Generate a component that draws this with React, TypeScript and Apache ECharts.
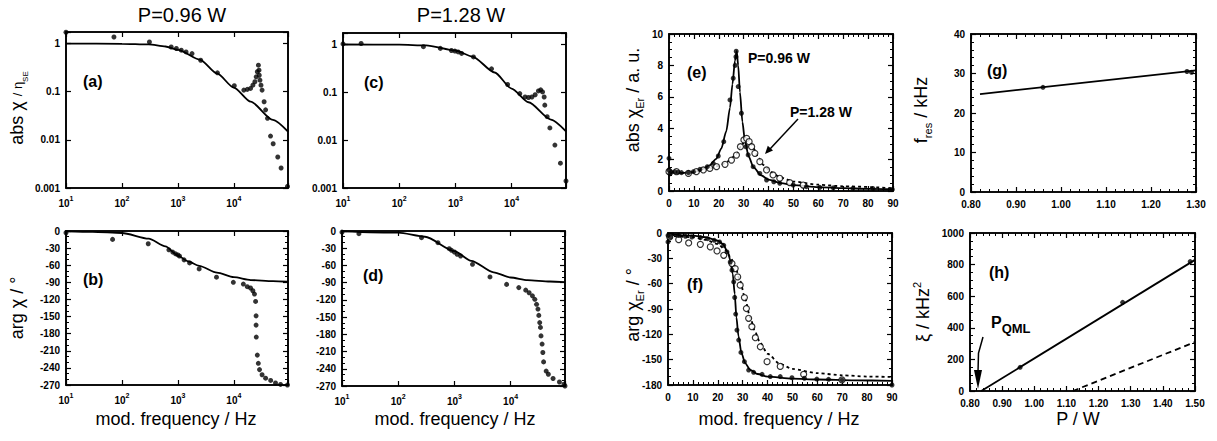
import React, { useEffect, useRef } from "react";
import * as echarts from "echarts";

const FONT = "'Liberation Sans', Arial, Helvetica, sans-serif";

// ---------- DATA ----------
// (a) abs chi / eta_SE, P = 0.96 W   [mod. frequency Hz, value]
const absData096 = [
  [10, 1.72], [72, 1.37], [310, 1.08], [760, 0.85], [940, 0.79], [1150, 0.73], [1400, 0.67], [1790, 0.62],
  [2560, 0.45], [5100, 0.247], [10200, 0.133], [15100, 0.108], [17400, 0.112], [19900, 0.117], [21900, 0.137],
  [23800, 0.161], [25100, 0.204], [26300, 0.26], [27500, 0.356], [28200, 0.28], [28500, 0.22], [29300, 0.174],
  [30600, 0.137], [32000, 0.108], [34800, 0.062], [37000, 0.042], [40000, 0.028], [45300, 0.012],
  [50500, 0.0083], [61000, 0.0044], [70000, 0.0026], [91000, 0.00108],
];
const absFit096 = [
  [10, 1], [100, 0.99], [300, 0.96], [600, 0.87], [1000, 0.74], [2500, 0.46], [5000, 0.24], [10000, 0.122],
  [20000, 0.062], [50000, 0.026], [93000, 0.0148],
];
// (b) arg chi / deg, P = 0.96 W
const argData096 = [
  [10, -3], [68, -14.7], [295, -22.4], [690, -33], [810, -37], [910, -40], [1000, -42], [1070, -44],
  [1290, -50.6], [1620, -56], [2400, -66.5], [4900, -81], [9800, -90], [14800, -93], [17400, -97.6],
  [19900, -100], [21900, -104.7], [23400, -110.6], [24500, -123.5], [25000, -148.8], [25000, -165],
  [25200, -186], [26300, -217.6], [27400, -232], [28800, -243], [32000, -252], [37000, -258],
  [45600, -262], [55600, -266.5], [68400, -269], [91000, -270],
];
const argFit096 = [
  [10, -0.5], [30, -1.5], [100, -3.5], [300, -13.5], [600, -27], [1000, -43], [1500, -53], [2400, -61],
  [5000, -73], [10000, -81], [20000, -86], [50000, -88], [93000, -89],
];
// (c) abs chi / eta_SE, P = 1.28 W
const absData128 = [
  [10, 1.03], [21, 1.05], [270, 0.9], [540, 0.83], [850, 0.75], [980, 0.73], [1120, 0.7], [1290, 0.65],
  [2100, 0.55], [4400, 0.31], [8500, 0.146], [14000, 0.094], [17400, 0.08], [20000, 0.078], [23000, 0.08],
  [26300, 0.089], [30000, 0.107], [33000, 0.113], [35600, 0.102], [38000, 0.08], [39000, 0.054],
  [43000, 0.031], [48000, 0.018], [59000, 0.0079], [74000, 0.0033], [93000, 0.0014],
];
const absFit128 = [
  [10, 1], [100, 0.99], [300, 0.96], [1000, 0.75], [2000, 0.56], [5000, 0.26], [10000, 0.12],
  [20000, 0.062], [50000, 0.027], [93000, 0.0153],
];
// (d) arg chi / deg, P = 1.28 W
const argData128 = [
  [10, -2], [20, -4.6], [260, -11.6], [510, -20.3], [810, -30.8], [890, -33.7], [1000, -36.6], [1120, -40.6],
  [1290, -43.5], [2100, -58], [4300, -80], [8500, -93], [14000, -98.6], [18600, -103], [21400, -107.5],
  [24500, -113], [27000, -119], [29000, -127.7], [30700, -136], [31800, -147], [33000, -159.6],
  [34000, -168], [34800, -182.7], [36400, -197], [37500, -211.6], [38700, -228], [43000, -244],
  [47000, -249.5], [57000, -257], [74000, -263], [89000, -267], [93000, -270],
];
const argFit128 = [
  [10, -0.5], [100, -3], [300, -10], [1000, -35], [2000, -52], [5000, -72], [10000, -81], [20000, -85.5],
  [50000, -88], [93000, -89],
];
// (e) abs chi_Er / a.u.
const absEr096 = [
  [0, 2.08], [0, 1.34], [0.4, 1.1], [1, 1.2], [2.4, 1.22], [3.7, 1.2], [5, 1.17], [7.8, 1.17], [9.8, 1.23],
  [12.4, 1.38], [15.4, 1.55], [17.8, 1.76], [19.8, 2.23], [22, 3.14], [24.5, 5.8], [25.8, 7.18], [26.6, 8.0],
  [26.9, 8.55], [27, 8.9], [27.8, 6.65], [29.1, 4.95], [30.9, 2.82], [31.8, 2.3], [33.8, 1.55], [36.5, 1.12],
  [39.2, 0.7], [42.1, 0.59], [44.5, 0.49], [49.9, 0.38], [55.2, 0.28], [60.6, 0.23], [66, 0.2], [73.9, 0.17],
  [82, 0.15], [89.7, 0.1],
];
const absEr128 = [
  [0, 1.23], [3, 1.23], [7.8, 1.12], [11, 1.23], [13.8, 1.34], [16.4, 1.44], [19.1, 1.55], [22.5, 1.7],
  [25.1, 1.97], [27.1, 2.29], [28.7, 2.82], [30.1, 3.25], [31.2, 3.35], [32.2, 3.14], [33.2, 2.82],
  [34.5, 2.4], [36.5, 1.87], [39.2, 1.34], [41.8, 1.02], [44.5, 0.81], [48.5, 0.53], [53.9, 0.38],
];
const absErFit096 = [
  [0, 1.25], [5, 1.15], [10, 1.2], [13, 1.35], [16, 1.6], [19, 2.05], [21, 2.7], [23, 3.8], [24.5, 5.3],
  [25.5, 6.8], [26.5, 8.3], [27.2, 8.9], [27.8, 8.0], [28.5, 6.3], [29.5, 4.4], [30.5, 3.2], [32, 2.2],
  [34, 1.5], [37, 1.0], [40, 0.72], [45, 0.5], [50, 0.38], [60, 0.25], [70, 0.18], [80, 0.14], [90, 0.11],
];
const absErFit128 = [
  [0, 1.2], [5, 1.15], [10, 1.2], [15, 1.38], [20, 1.6], [24, 1.9], [27, 2.35], [29, 2.85], [30.5, 3.2],
  [31.5, 3.3], [32.5, 3.15], [34, 2.7], [36, 2.1], [38, 1.65], [41, 1.2], [45, 0.85], [50, 0.6], [60, 0.4],
  [70, 0.3], [90, 0.18],
];
// (f) arg chi_Er / deg
const argEr096 = [
  [0, -2.8], [0, -10.6], [0.9, -4.7], [4.3, -2.8], [7, -3.9], [9.6, -4.7], [13, -5.5], [15.9, -6.7],
  [18.6, -8.7], [20.7, -10.6], [22.4, -14.6], [23.7, -22.4], [25, -34.3], [25.7, -44], [26.4, -57.9],
  [26.8, -76.4], [27.2, -96], [27.7, -115], [28.4, -126.8], [29.3, -141.4], [30.7, -152.4], [32.4, -162.3],
  [34.4, -165], [37.8, -167.4], [41.1, -170], [45.1, -170], [49.8, -171.3], [54.8, -172], [59.8, -173],
  [64.5, -173.3], [69.9, -174], [90, -180],
];
const argEr128 = [
  [0.7, -4.7], [4.3, -7.9], [8.3, -11.8], [13, -13.4], [17, -16.5], [19.7, -21.3], [22.4, -26.4],
  [25.7, -36.2], [27, -42.1], [28, -52], [29, -61.8], [30.7, -76.4], [31.5, -89.4], [32.4, -101],
  [33.7, -111], [35.1, -124], [37.1, -134.7], [39.8, -152.4], [45.1, -158], [54.5, -167.4], [69.9, -174],
];
const argErFit096 = [
  [0, -2], [10, -3], [15, -5], [20, -9], [22, -13], [24, -22], [25, -32], [26, -48], [26.8, -72],
  [27.5, -100], [28.3, -122], [29.5, -142], [31, -154], [33, -162], [36, -167], [40, -170], [50, -172.5],
  [60, -173.5], [75, -174.5], [90, -175],
];
const argErFit128 = [
  [0, -3], [10, -5], [15, -8], [20, -13], [23, -20], [25, -28], [27, -40], [29, -57], [31, -78], [33, -100],
  [35, -117], [37, -130], [40, -143], [45, -155], [50, -161], [60, -166], [70, -168.5], [80, -170], [90, -170.5],
];
// (g) f_res / kHz vs P / W
const fresData = [[0.96, 26.5], [1.28, 30.5], [1.29, 30.3]];
const fresFit = [[0.82, 24.8], [1.3, 30.8]];
// (h) xi / kHz^2 vs P / W
const xiData = [[0.956, 150], [1.275, 561], [1.485, 819]];
const xiFit = [[0.835, 0], [1.5, 830]];
const xiDashed = [[1.12, 0], [1.5, 310]];

// ---------- LAYOUT ----------
const grids = [
  { left: 66, top: 32, width: 222, height: 156 }, // a
  { left: 66, top: 231, width: 222, height: 154 }, // b
  { left: 343, top: 33, width: 223, height: 155 }, // c
  { left: 342, top: 231, width: 223, height: 155 }, // d
  { left: 669, top: 34, width: 224, height: 157 }, // e
  { left: 668, top: 233, width: 224, height: 152 }, // f
  { left: 971, top: 34, width: 225, height: 158 }, // g
  { left: 970, top: 233, width: 225, height: 158 }, // h
];

const logX = { type: "log", logBase: 10, min: 10, max: 93000 };
const logY = { type: "log", logBase: 10, min: 0.001, max: 1.74 };
const argY = { type: "value", min: -270, max: 0, interval: 30 };
const hzX = { type: "value", min: 0, max: 90, interval: 10 };

const labelBase = { color: "#000", fontFamily: FONT, fontWeight: "bold", fontSize: 10 };
function isDecade(v: number) {
  const e = Math.log10(v);
  return Math.abs(e - Math.round(e)) < 1e-3;
}
const powLabel = (v: number) => (isDecade(v) ? `{b|10}{s|${Math.round(Math.log10(v))}}` : "");
const decLabel = (v: number) =>
  isDecade(v) ? String(Number(Math.pow(10, Math.round(Math.log10(v))).toPrecision(1))) : "";
const plain = (v: number) => String(Math.round(v * 1000) / 1000);
const fix2 = (v: number) => v.toFixed(2);
const powRich = {
  b: { fontFamily: FONT, fontWeight: "bold", fontSize: 10, lineHeight: 16, color: "#000" },
  s: { fontFamily: FONT, fontWeight: "bold", fontSize: 7, lineHeight: 8, verticalAlign: "top", color: "#000" },
};
const logXLabel = { formatter: powLabel, rich: powRich };

function fit(data: number[][], dash: any = "solid", smooth: number = 0.25) {
  return {
    type: "line", data, symbol: "none", showSymbol: false, smooth, smoothMonotone: "x", silent: true, z: 2,
    lineStyle: { color: "#000", width: 1.8, type: dash },
  };
}
function dots(data: number[][]) {
  return { type: "scatter", data, symbol: "circle", symbolSize: 5, itemStyle: { color: "#000" }, silent: true, z: 3 };
}
function rings(data: number[][]) {
  return {
    type: "scatter", data, symbol: "circle", symbolSize: 6,
    itemStyle: { color: "#fff", borderColor: "#000", borderWidth: 1.2 }, silent: true, z: 3,
  };
}

// panel definitions: scales, label formats, minor tick splits, series
const panels = [
  { x: logX, y: logY, xl: logXLabel, yl: { formatter: decLabel }, xm: 0, ym: 0, s: [fit(absFit096), dots(absData096)] },
  { x: logX, y: argY, xl: logXLabel, yl: {}, xm: 0, ym: 3, s: [fit(argFit096), dots(argData096)] },
  { x: logX, y: logY, xl: logXLabel, yl: { formatter: decLabel }, xm: 0, ym: 0, s: [fit(absFit128), dots(absData128)] },
  { x: logX, y: argY, xl: logXLabel, yl: {}, xm: 0, ym: 3, s: [fit(argFit128), dots(argData128)] },
  {
    x: hzX, y: { type: "value", min: 0, max: 10, interval: 2 }, xl: {}, yl: {}, xm: 5, ym: 4,
    s: [fit(absErFit128, [3, 3]), fit(absErFit096), rings(absEr128), dots(absEr096)],
  },
  {
    x: hzX, y: { type: "value", min: -180, max: 0, interval: 30 }, xl: {}, yl: {}, xm: 5, ym: 3,
    s: [fit(argErFit128, [3, 3]), fit(argErFit096), rings(argEr128), dots(argEr096)],
  },
  {
    x: { type: "value", min: 0.8, max: 1.3, interval: 0.1 }, y: { type: "value", min: 0, max: 40, interval: 10 },
    xl: { formatter: fix2 }, yl: {}, xm: 5, ym: 5, s: [fit(fresFit, "solid", 0), dots(fresData)],
  },
  {
    x: { type: "value", min: 0.8, max: 1.5, interval: 0.1 }, y: { type: "value", min: 0, max: 1000, interval: 200 },
    xl: { formatter: fix2 }, yl: {}, xm: 5, ym: 4,
    s: [fit(xiFit, "solid", 0), fit(xiDashed, [6, 4], 0), dots(xiData)],
  },
];

function axisPair(kind: "x" | "y", scale: any, label: any, minorSplit: number) {
  const pos = kind === "x" ? ["bottom", "top"] : ["left", "right"];
  return pos.map((p, i) => ({
    gridIndex: 0,
    position: p,
    ...scale,
    axisLine: { show: true, onZero: false, lineStyle: { color: "#000", width: 1.6 } },
    axisTick: { show: true, inside: true, length: 5, lineStyle: { color: "#000", width: 1.2 } },
    minorTick: { show: minorSplit > 0, splitNumber: minorSplit || 5, length: 3, lineStyle: { color: "#000", width: 1 } },
    splitLine: { show: false },
    minorSplitLine: { show: false },
    axisLabel: i === 0 ? { ...labelBase, margin: kind === "x" ? 7 : 6, formatter: plain, ...label } : { show: false },
  }));
}

const panelOptions = panels.map((p, g) => ({
  animation: false,
  backgroundColor: "transparent",
  grid: { ...grids[g], show: true, borderColor: "#000", borderWidth: 1.6 },
  xAxis: axisPair("x", p.x, p.xl, p.xm),
  yAxis: axisPair("y", p.y, p.yl, p.ym),
  series: p.s.map((s) => ({ ...s, xAxisIndex: 0, yAxisIndex: 0 })),
}));

// ---------- TEXT ----------
const n = { fontFamily: FONT, fontSize: 18, lineHeight: 24, fill: "#000" };
const sub = { fontFamily: FONT, fontSize: 11, lineHeight: 11, verticalAlign: "bottom", fill: "#000" };
const sup = { fontFamily: FONT, fontSize: 11, lineHeight: 11, verticalAlign: "top", fill: "#000" };

function txt(x: number, y: number, text: string, size: number, weight = "normal", align = "center") {
  return {
    type: "text", x, y, silent: true,
    style: { text, fill: "#000", fontFamily: FONT, fontSize: size, fontWeight: weight, align, verticalAlign: "middle" },
  };
}
function yTitle(x: number, y: number, text: string, rich: any) {
  return {
    type: "text", x, y, rotation: Math.PI / 2, silent: true,
    style: { text, rich, align: "center", verticalAlign: "middle", fill: "#000", fontFamily: FONT, fontSize: 18 },
  };
}

const graphics: any[] = [
  txt(182, 15, "P=0.96 W", 20),
  txt(461, 15, "P=1.28 W", 20),
  txt(83, 81, "(a)", 16, "bold", "left"),
  txt(83, 279, "(b)", 16, "bold", "left"),
  txt(364, 82, "(c)", 16, "bold", "left"),
  txt(363, 275, "(d)", 16, "bold", "left"),
  txt(687, 72, "(e)", 16, "bold", "left"),
  txt(687, 284, "(f)", 16, "bold", "left"),
  txt(987, 70, "(g)", 16, "bold", "left"),
  txt(989, 272, "(h)", 16, "bold", "left"),
  txt(176, 419, "mod. frequency / Hz", 18),
  txt(455, 419, "mod. frequency / Hz", 18),
  txt(779, 419, "mod. frequency / Hz", 18),
  txt(1078, 419, "P / W", 18),
  yTitle(17, 108, "{n|abs χ }{m|/ η}{s|SE}", {
    n, m: { fontFamily: FONT, fontSize: 13, lineHeight: 24, fill: "#000" },
    s: { ...sub, fontSize: 8, lineHeight: 8 },
  }),
  yTitle(17, 308, "{n|arg χ / °}", { n }),
  yTitle(633, 100, "{n|abs χ}{s|Er}{n| / a. u.}", { n, s: sub }),
  yTitle(633, 305, "{n|arg χ}{s|Er}{n| / °}", { n, s: sub }),
  yTitle(921, 110, "{n|f}{s|res}{n| / kHz}", { n, s: sub }),
  yTitle(923, 312, "{n|ξ / kHz}{s|2}", { n, s: sup }),
  txt(748, 58, "P=0.96 W", 14, "bold", "left"),
  txt(790, 112, "P=1.28 W", 14, "bold", "left"),
  { type: "line", silent: true, shape: { x1: 798, y1: 119, x2: 770, y2: 149 }, style: { stroke: "#000", lineWidth: 1.5 } },
  { type: "polygon", silent: true, shape: { points: [[765, 154], [773, 150.5], [767.8, 145.7]] }, style: { fill: "#000" } },
  {
    type: "text", x: 991, y: 322, silent: true,
    style: {
      text: "{p|P}{q|QML}", align: "left", verticalAlign: "middle", fill: "#000",
      rich: {
        p: { fontFamily: FONT, fontSize: 16, fontWeight: "bold", lineHeight: 26, fill: "#000" },
        q: { fontFamily: FONT, fontSize: 13, fontWeight: "bold", lineHeight: 13, verticalAlign: "bottom", fill: "#000" },
      },
    },
  },
  { type: "polyline", silent: true, shape: { points: [[983, 337], [978.5, 353], [978, 372]] }, style: { stroke: "#000", lineWidth: 1.5, fill: null } },
  { type: "polygon", silent: true, shape: { points: [[978, 389], [974, 370], [982, 370]] }, style: { fill: "#000" } },
];

const textOption = { animation: false, backgroundColor: "#fff", graphic: graphics };

const layer: React.CSSProperties = { position: "absolute", left: 0, top: 0, width: 1217, height: 441 };

export default function App() {
  const bgRef = useRef<HTMLDivElement>(null);
  const refs = useRef<(HTMLDivElement | null)[]>([]);
  useEffect(() => {
    document.body.style.margin = "0";
    const charts: any[] = [];
    const bg = echarts.init(bgRef.current!, null, { renderer: "svg" });
    bg.setOption(textOption as any);
    charts.push(bg);
    panelOptions.forEach((opt, i) => {
      const el = refs.current[i];
      if (!el) return;
      const c = echarts.init(el, null, { renderer: "svg" });
      c.setOption(opt as any);
      charts.push(c);
    });
    return () => charts.forEach((c) => c.dispose());
  }, []);
  return (
    <div style={{ ...layer, background: "#fff" }}>
      <div ref={bgRef} style={layer} />
      {panelOptions.map((_, i) => (
        <div
          key={i}
          ref={(el) => {
            refs.current[i] = el;
          }}
          style={{ ...layer, pointerEvents: "none" }}
        />
      ))}
    </div>
  );
}
